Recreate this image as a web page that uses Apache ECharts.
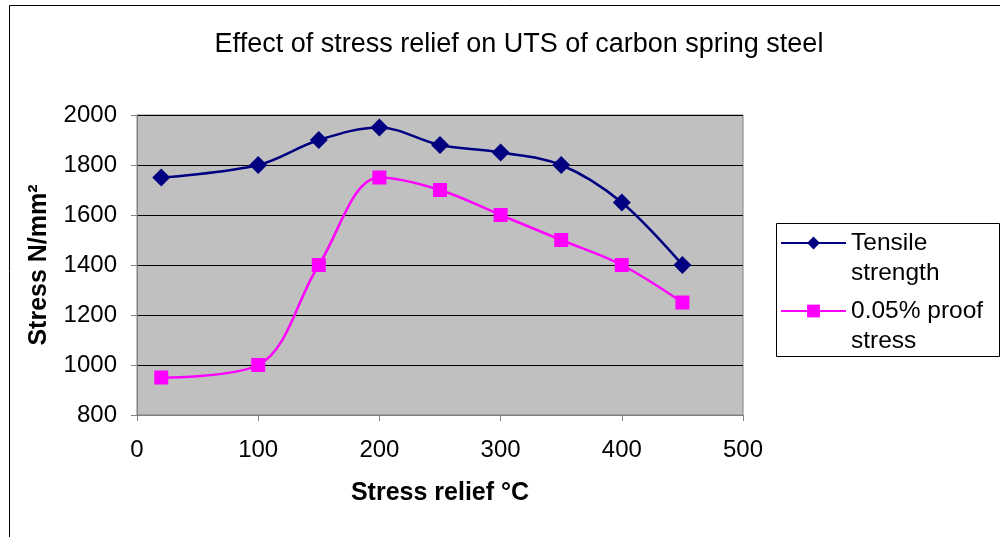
<!DOCTYPE html>
<html>
<head>
<meta charset="utf-8">
<script src="https://cdn.jsdelivr.net/npm/echarts@6/dist/echarts.min.js"></script>
<style>
  html, body { margin: 0; padding: 0; background: #fff; }
  #chart { width: 1000px; height: 537px; }
</style>
</head>
<body>
<div id="chart"></div>
<script>
// stress relief temperature (°C)
const temps = [20, 100, 150, 200, 250, 300, 350, 400, 450];
// Tensile strength, N/mm²
const tensile = [1750, 1800, 1900, 1950, 1880, 1850, 1800, 1650, 1400];
// 0.05% proof stress, N/mm²
const proof = [950, 1000, 1400, 1750, 1700, 1600, 1500, 1400, 1250];

const seriesNames = ["Tensile strength", "0.05% proof stress"];
// legend text, wrapped like the original (leading blank line keeps icon on first line)
const legendLabels = {
  "Tensile strength": "\nTensile\nstrength",
  "0.05% proof stress": "\n0.05% proof\nstress"
};
const FONT = "Liberation Sans, Arial, sans-serif";

const chart = echarts.init(document.getElementById("chart"));

const toPairs = (ys) => temps.map((t, i) => [t, ys[i]]);

chart.setOption({
  animation: false,
  backgroundColor: "#fff",
  textStyle: { fontFamily: FONT },
  title: {
    text: "Effect of stress relief on UTS of carbon spring steel",
    left: 514,
    textAlign: "center",
    top: 26,
    textStyle: { fontFamily: FONT, fontSize: 27, fontWeight: "normal", color: "#000" }
  },
  grid: {
    left: 137, right: 257, top: 115, bottom: 122,
    show: true,
    backgroundColor: "#C0C0C0",
    borderColor: "#808080",
    borderWidth: 1
  },
  legend: {
    orient: "vertical",
    left: 780,
    top: 198,
    padding: 0,
    itemGap: -22,
    itemWidth: 65,
    itemHeight: 16,
    textStyle: { fontFamily: FONT, fontSize: 24.5, color: "#000", lineHeight: 30 },
    formatter: (name) => legendLabels[name],
    data: seriesNames
  },
  xAxis: {
    type: "value",
    min: 0, max: 500, interval: 100,
    name: "Stress relief °C",
    nameLocation: "middle",
    nameGap: 66,
    nameTextStyle: { fontFamily: FONT, fontSize: 25, fontWeight: "bold", color: "#000" },
    axisLine: { lineStyle: { color: "#808080", width: 1 } },
    axisTick: { show: true, length: 6, inside: false, lineStyle: { color: "#808080" } },
    axisLabel: { fontFamily: FONT, fontSize: 24, color: "#000", margin: 23 },
    splitLine: { show: false }
  },
  yAxis: {
    type: "value",
    min: 800, max: 2000, interval: 200,
    name: "Stress N/mm²",
    nameLocation: "middle",
    nameGap: 85,
    nameTextStyle: { fontFamily: FONT, fontSize: 25, fontWeight: "bold", color: "#000" },
    axisLine: { show: true, lineStyle: { color: "#808080", width: 1 } },
    axisTick: { show: true, length: 6, inside: false, lineStyle: { color: "#808080" } },
    axisLabel: { fontFamily: FONT, fontSize: 24, color: "#000", margin: 20, formatter: (v) => String(v) },
    splitLine: { show: true, lineStyle: { color: "#000", width: 1 } }
  },
  series: [
    {
      name: seriesNames[0],
      type: "line",
      data: toPairs(tensile),
      smooth: 0.35,
      symbol: "diamond",
      symbolSize: 18,
      itemStyle: { color: "#000080" },
      lineStyle: { color: "#000080", width: 2.5 }
    },
    {
      name: seriesNames[1],
      type: "line",
      data: toPairs(proof),
      smooth: 0.35,
      symbol: "rect",
      symbolSize: 14,
      itemStyle: { color: "#FF00FF" },
      lineStyle: { color: "#FF00FF", width: 2.5 }
    }
  ],
  graphic: [
    {
      type: "rect",
      left: 7, top: 3,
      shape: { width: 1000, height: 560 },
      style: { fill: "none", stroke: "#000", lineWidth: 1 },
      silent: true
    },
    {
      // legend frame
      type: "rect",
      left: 774, top: 221,
      shape: { width: 223, height: 133 },
      style: { fill: "none", stroke: "#000", lineWidth: 1 },
      silent: true
    }
  ]
});
</script>
</body>
</html>
